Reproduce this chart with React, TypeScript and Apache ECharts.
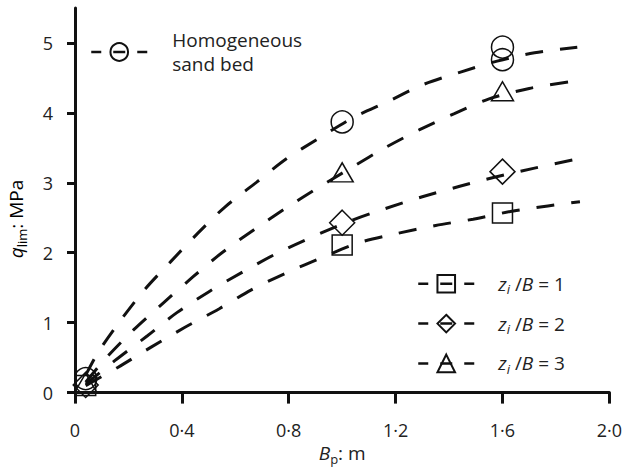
import React, { useEffect, useRef } from 'react';
import * as echarts from 'echarts';

// ---- data ----
const xTickValues = [0, 0.4, 0.8, 1.2, 1.6, 2.0];
const yTickValues = [0, 1, 2, 3, 4, 5];

const seriesNames = ['Homogeneous sand bed', 'zi/B = 1', 'zi/B = 2', 'zi/B = 3'];

// measured points (markers)
const homogeneousPts = [[0.04, 0.2], [1.0, 3.87], [1.6, 4.94], [1.6, 4.76]];
const zb1Pts = [[0.04, 0.1], [1.0, 2.11], [1.6, 2.57]];
const zb2Pts = [[0.04, 0.11], [1.0, 2.43], [1.6, 3.16]];
const zb3Pts = [[0.04, 0.14], [1.0, 3.15], [1.6, 4.31]];

// fitted dashed curves (read along the dashes)
const homogeneousCurve = [[0.04, 0.25], [0.087, 0.58], [0.17, 1.03], [0.26, 1.47], [0.36, 1.88], [0.46, 2.28], [0.56, 2.65], [0.68, 3.01], [0.79, 3.34], [0.91, 3.63], [1.04, 3.93], [1.17, 4.16], [1.3, 4.4], [1.44, 4.58], [1.58, 4.74], [1.72, 4.86], [1.88, 4.94]];
const zb3Curve = [[0.04, 0.15], [0.12, 0.51], [0.22, 0.9], [0.33, 1.28], [0.44, 1.65], [0.55, 2.0], [0.67, 2.33], [0.79, 2.64], [0.91, 2.93], [1.04, 3.23], [1.16, 3.5], [1.29, 3.76], [1.42, 3.99], [1.55, 4.2], [1.7, 4.35], [1.88, 4.46]];
const zb2Curve = [[0.04, 0.12], [0.15, 0.46], [0.27, 0.81], [0.38, 1.14], [0.5, 1.44], [0.63, 1.73], [0.76, 2.0], [0.89, 2.23], [1.02, 2.44], [1.16, 2.63], [1.3, 2.8], [1.44, 2.95], [1.57, 3.08], [1.72, 3.21], [1.88, 3.34]];
const zb1Curve = [[0.04, 0.1], [0.16, 0.36], [0.285, 0.65], [0.41, 0.93], [0.54, 1.2], [0.66, 1.47], [0.79, 1.71], [0.93, 1.94], [1.06, 2.14], [1.2, 2.27], [1.35, 2.39], [1.49, 2.48], [1.63, 2.59], [1.77, 2.67], [1.89, 2.73]];

const FONT = 'Open Sans';
const INK = '#222';
const LINE = '#111';
const FS = 19;

const markerSeries = (name: string, data: number[][], symbol: string, size: number | number[]) => ({
  type: 'line',
  name,
  data,
  symbol,
  symbolSize: size,
  showSymbol: true,
  z: 5,
  lineStyle: { opacity: 0, width: 0 },
  itemStyle: { color: 'rgba(0,0,0,0)', borderColor: LINE, borderWidth: 1.5 },
  emphasis: { disabled: true },
  silent: true,
});

const curveSeries = (data: number[][]) => ({
  type: 'line',
  data,
  symbol: 'none',
  smooth: 0.3,
  z: 3,
  lineStyle: { color: LINE, width: 3, type: [18, 17] },
  emphasis: { disabled: true },
  silent: true,
});

const richStyles = (subItalic: boolean) => ({
  it: { fontFamily: FONT, fontSize: FS, fontStyle: 'italic', color: INK, lineHeight: 24 },
  sub: { fontFamily: FONT, fontSize: 13, fontStyle: subItalic ? 'italic' : 'normal', color: INK, lineHeight: 12, verticalAlign: 'bottom' },
  n: { fontFamily: FONT, fontSize: FS, color: INK, lineHeight: 24 },
});

const legendCommon = {
  orient: 'vertical',
  itemWidth: 56,
  itemHeight: 22,
  padding: 0,
  selectedMode: false,
  itemStyle: { color: 'rgba(0,0,0,0)', borderColor: LINE, borderWidth: 2 },
  lineStyle: { color: LINE, width: 2.5, type: [10, 12, 12, 12, 10, 100], opacity: 1 },
};

export default function App() {
  const ref = useRef<HTMLDivElement>(null);
  useEffect(() => {
    if (!ref.current) return;
    const chart = echarts.init(ref.current, null, { renderer: 'svg' });
    const option: any = {
      animation: false,
      backgroundColor: '#fff',
      textStyle: { fontFamily: FONT, color: INK },
      grid: { left: 75, right: 12, top: 8, bottom: 77 },
      xAxis: {
        type: 'value',
        min: 0,
        max: 2,
        interval: 0.4,
        axisLine: { onZero: false, lineStyle: { color: LINE, width: 3 } },
        axisTick: { length: 11, lineStyle: { color: LINE, width: 3 }, customValues: xTickValues },
        splitLine: { show: false },
        axisLabel: {
          customValues: xTickValues,
          fontSize: 18,
          fontFamily: FONT,
          color: INK,
          margin: 28,
          formatter: (v: number) => (v === 0 ? '0' : v.toFixed(1).replace('.', '·')),
        },
        name: '{it|B}{sub|p}{n|: m}',
        nameLocation: 'middle',
        nameGap: 44,
        nameTextStyle: { rich: richStyles(false) },
      },
      yAxis: {
        type: 'value',
        min: 0,
        max: 5.5,
        interval: 1,
        axisLine: { onZero: false, lineStyle: { color: LINE, width: 3 } },
        axisTick: { length: 8, lineStyle: { color: LINE, width: 3 }, customValues: yTickValues },
        splitLine: { show: false },
        axisLabel: { customValues: yTickValues, fontSize: 18, fontFamily: FONT, color: INK, margin: 22 },
      },
      graphic: [
        {
          type: 'text',
          x: 16,
          y: 219,
          rotation: Math.PI / 2,
          silent: true,
          style: {
            text: '{it|q}{sub|lim}{n|: MPa}',
            align: 'center',
            verticalAlign: 'middle',
            rich: richStyles(false),
          },
        },
      ],
      legend: [
        {
          ...legendCommon,
          data: [seriesNames[0]],
          left: 90,
          top: 16,
          formatter: () => 'Homogeneous\nsand bed',
          textStyle: { fontFamily: FONT, fontSize: FS, color: INK, lineHeight: 24, padding: [24, 0, 0, 20] },
        },
        {
          ...legendCommon,
          data: [seriesNames[1], seriesNames[2], seriesNames[3]],
          left: 417,
          top: 274,
          itemGap: 18,
          formatter: (name: string) => `{it|z}{sub|i}{n| /}{it|B}{n| = ${name.slice(-1)}}`,
          textStyle: {
            padding: [0, 0, 0, 19],
            rich: richStyles(true),
          },
        },
      ],
      series: [
        curveSeries(homogeneousCurve),
        curveSeries(zb3Curve),
        curveSeries(zb2Curve),
        curveSeries(zb1Curve),
        markerSeries(seriesNames[0], homogeneousPts, 'circle', 22),
        markerSeries(seriesNames[1], zb1Pts, 'rect', 20),
        markerSeries(seriesNames[2], zb2Pts, 'diamond', 25),
        markerSeries(seriesNames[3], zb3Pts, 'triangle', [22, 19]),
      ],
    };
    chart.setOption(option);
    return () => chart.dispose();
  }, []);
  return (
    <div
      ref={ref}
      style={{ position: 'fixed', left: 0, top: 0, width: 625, height: 470, background: '#fff' }}
    />
  );
}
